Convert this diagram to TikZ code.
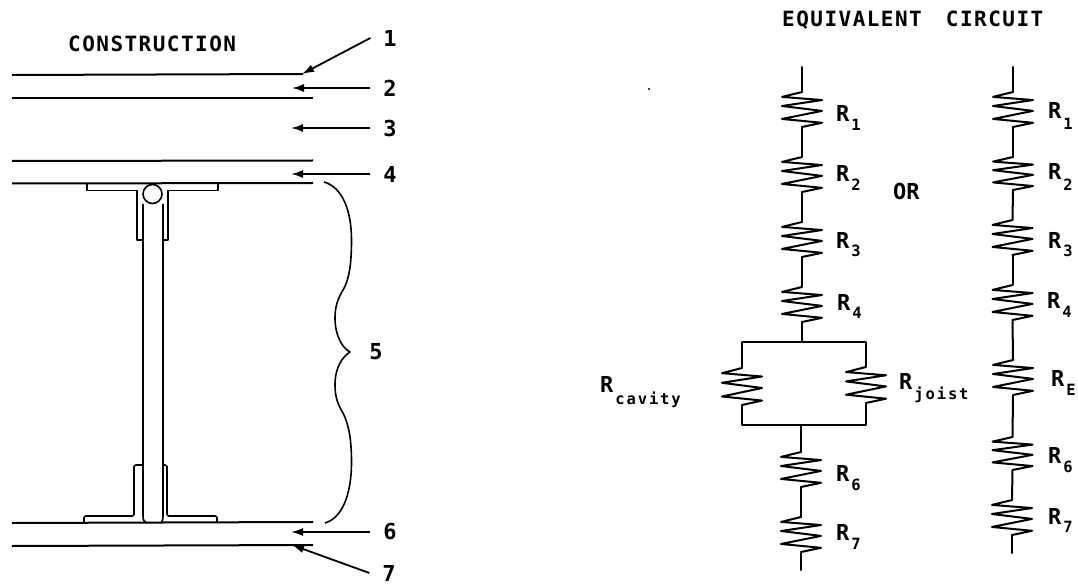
\documentclass[tikz,border=0pt]{standalone}
\usepackage{fontspec}
\usetikzlibrary{arrows.meta}
\newfontfamily\plotfont[LetterSpace=7]{DejaVu Sans Mono Bold}
\newfontfamily\plotR{DejaVu Sans Mono Bold}
\newfontfamily\plotsub[LetterSpace=12]{DejaVu Sans Mono Bold}
\tikzset{
  wire/.style={line width=2pt,line join=round,line cap=round},
  plate/.style={line width=2pt},
  lead/.style={line width=1.8pt,-{Latex[length=12pt,width=8pt]}},
  heading/.style={inner sep=0pt,font=\fontsize{21}{22}\plotfont},
  numlabel/.style={inner sep=0pt,outer xsep=13pt,font=\fontsize{22}{23}\plotR},
  rlabel/.style={inner sep=0pt,anchor=base west,font=\fontsize{22}{23}\plotR},
}
\newcommand{\rlab}[2]{R\hspace{2pt}\raisebox{-#2pt}{\fontsize{15.5}{16}\plotsub #1}}
% name, x, top y, height
\newcommand{\zig}[4]{%
  \coordinate (#1t) at (#2,#3);
  \coordinate (#1b) at (#2,#3+#4);
  \draw[wire] (#1t) -- (#2-20,#3+0.14*#4) -- (#2+20,#3+0.23*#4) -- (#2-20,#3+0.40*#4)
    -- (#2+20,#3+0.54*#4) -- (#2-20,#3+0.77*#4) -- (#2+20,#3+0.88*#4) -- (#1b);
}
\begin{document}
\begin{tikzpicture}[x=1pt,y=-1pt]
\useasboundingbox (0,0) rectangle (1078,585);
\fill[white] (0,0) rectangle (1078,585);
% headings
\node[heading,anchor=west] (hc) at (68,44) {CONSTRUCTION};
\node[heading,anchor=west] (he) at (782,20) {EQUIVALENT\hspace{10pt} CIRCUIT};
\fill (649,89) circle (1.2pt);
% layers
\coordinate (l1a) at (12,75);  \coordinate (l1b) at (303,74);
\coordinate (l2a) at (12,98);  \coordinate (l2b) at (313,98);
\coordinate (l3a) at (12,161); \coordinate (l3b) at (313,160.5);
\coordinate (l4a) at (12,183.5); \coordinate (l4b) at (313,183);
\coordinate (l6a) at (12,523); \coordinate (l6b) at (313,522);
\coordinate (l7a) at (12,546); \coordinate (l7b) at (313,545);
\foreach \i in {1,2,3,4,6,7} \draw[plate] (l\i a) -- (l\i b);
% joist
\begin{scope}[line width=1.6pt,line join=round]
\draw (87,184) -- (87,190.5) -- (137,190.5) -- (137,240) -- (143,240);
\draw (218,184) -- (218,190.5) -- (168,190.5) -- (168,240) -- (163,240);
\node[draw,circle,minimum size=19pt,inner sep=0pt,line width=1.6pt] (rod) at (152.5,194) {};
\draw (143,204) -- (143,516) .. controls (143,520) and (144,522) .. (147,523);
\draw (163,204) -- (163,516) .. controls (163,520) and (162,522) .. (161,523);
\draw[rounded corners=2pt] (84,523) -- (84,516) -- (134,516) -- (134,465) -- (143,465);
\draw[rounded corners=2pt] (217,523) -- (217,516) -- (167,516) -- (167,465) -- (163,465);
% brace
\draw (324,182) .. controls (342,187) and (351.5,210) .. (351.5,240)
  .. controls (351.5,265) and (349,280) .. (343,290)
  .. controls (337,300) and (335,308) .. (335,318)
  .. controls (335,335) and (342,348) .. (350,352)
  .. controls (342,357) and (335,368) .. (335,385)
  .. controls (335,397) and (338,405) .. (343,413)
  .. controls (349,425) and (351.5,440) .. (351.5,462)
  .. controls (351.5,495) and (342,518) .. (325,523);
\end{scope}
% numbered arrows
\node[numlabel] (n1) at (390,38) {1};
\node[numlabel] (n2) at (390,88) {2};
\node[numlabel] (n3) at (390,128) {3};
\node[numlabel] (n4) at (390,174) {4};
\node[inner sep=0pt,font=\fontsize{22}{23}\plotR] (n5) at (376,352) {5};
\node[numlabel] (n6) at (390,532) {6};
\node[numlabel] (n7) at (389,573) {7};
\coordinate (t1) at (302,74); \coordinate (t2) at (292,88);
\coordinate (t3) at (291,128); \coordinate (t4) at (291,174);
\coordinate (t6) at (291,532); \coordinate (t7) at (292,545);
\foreach \i in {1,2,3,4,6,7} \draw[lead] (n\i.west) -- (t\i);
% first circuit
\zig{a1}{802}{92}{35}
\zig{a2}{802}{157}{35}
\zig{a3}{802}{222}{35}
\zig{a4}{802}{287}{35}
\zig{ac}{742}{368}{37}
\zig{aj}{866}{367}{36}
\zig{a6}{801}{452}{35}
\zig{a7}{801}{517}{35}
\coordinate (atop) at (802,67);
\coordinate (aend) at (801,570);
\coordinate (bt) at (802,342);
\coordinate (bb) at (801,425);
\draw[wire] (atop) -- (a1t);
\draw[wire] (a1b) -- (a2t);
\draw[wire] (a2b) -- (a3t);
\draw[wire] (a3b) -- (a4t);
\draw[wire] (a4b) -- (bt);
\draw[wire] (acb) |- (bb) -| (ajb);
\draw[wire] (act) |- (bt) -| (ajt);
\draw[wire] (bb) -- (a6t);
\draw[wire] (a6b) -- (a7t);
\draw[wire] (a7b) -- (aend);
% second circuit
\zig{b1}{1013}{92}{35}
\zig{b2}{1013}{157}{33}
\zig{b3}{1012.5}{220}{35}
\zig{b4}{1012.5}{285}{35}
\zig{bE}{1013}{360}{35}
\zig{b6}{1012.5}{437}{33}
\zig{b7}{1012}{500}{35}
\coordinate (btop) at (1013,67);
\coordinate (bend) at (1012,553);
\draw[wire] (btop) -- (b1t);
\draw[wire] (b1b) -- (b2t);
\draw[wire] (b2b) -- (b3t);
\draw[wire] (b3b) -- (b4t);
\draw[wire] (b4b) -- (bEt);
\draw[wire] (bEb) -- (b6t);
\draw[wire] (b6b) -- (b7t);
\draw[wire] (b7b) -- (bend);
% labels
\node[rlabel] (la1) at (836,122) {\rlab{1}{9}};
\node[rlabel] (la2) at (836,182) {\rlab{2}{9}};
\node[rlabel] (la3) at (836,248) {\rlab{3}{9}};
\node[rlabel] (la4) at (837,310) {\rlab{4}{8}};
\node[rlabel] (la6) at (836,481) {\rlab{6}{9}};
\node[rlabel] (la7) at (836,540) {\rlab{7}{9}};
\node[rlabel] (lac) at (600,392) {\rlab{cavity}{12}};
\node[rlabel] (laj) at (899,389) {\rlab{joist}{10}};
\node[rlabel] (lor) at (893,200) {OR};
\node[rlabel] (lb1) at (1048,119) {\rlab{1}{11}};
\node[rlabel] (lb2) at (1048,180) {\rlab{2}{11}};
\node[rlabel] (lb3) at (1048,248) {\rlab{3}{9}};
\node[rlabel] (lb4) at (1047,308) {\rlab{4}{9}};
\node[rlabel] (lbE) at (1051,386) {\rlab{E}{9}};
\node[rlabel] (lb6) at (1048,463) {\rlab{6}{9}};
\node[rlabel] (lb7) at (1048,524) {\rlab{7}{8}};
\end{tikzpicture}
\end{document}
